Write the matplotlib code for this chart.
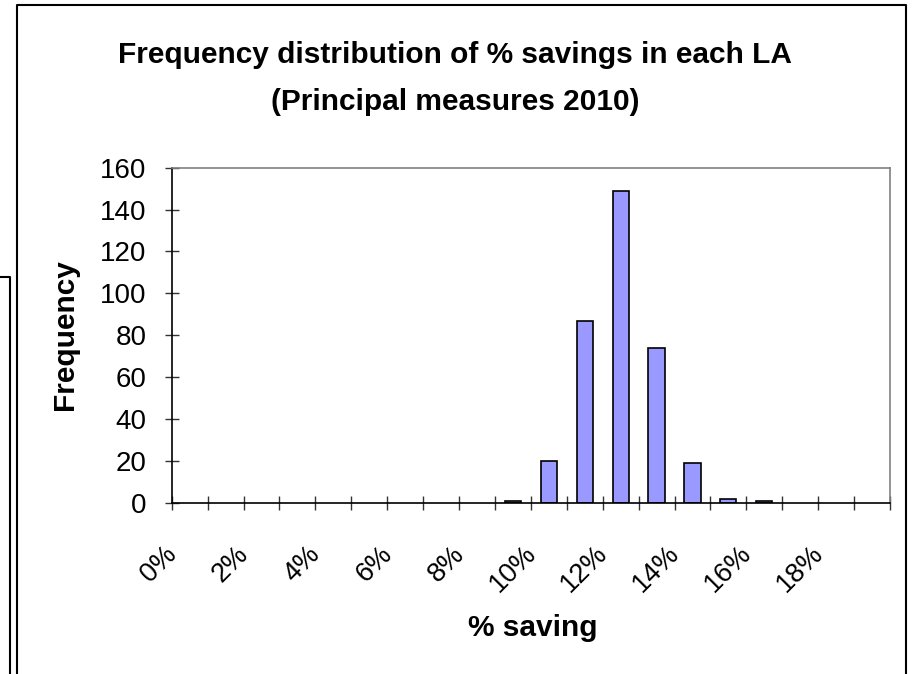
import matplotlib
matplotlib.use('Agg')
import matplotlib.pyplot as plt
import matplotlib.transforms as mtransforms
from matplotlib.lines import Line2D

plt.rcParams['font.family'] = ['Liberation Sans', 'DejaVu Sans']

# % saving bins (one per percentage point) and number of LAs in each
bins = ['%d%%' % i for i in range(20)]
counts = [0, 0, 0, 0, 0, 0, 0, 0, 0, 1, 20, 87, 149, 74, 19, 2, 1, 0, 0, 0]
yticks = [0, 20, 40, 60, 80, 100, 120, 140, 160]

W, H = 913, 674
fig = plt.figure(figsize=(W / 100, H / 100), dpi=100)

# axes placed in pixel terms to match the reference
left, right, top, bottom = 171.7, 890, 167.7, 502.7
ax = fig.add_axes([left / W, 1 - bottom / H, (right - left) / W, (bottom - top) / H])

x = list(range(len(bins)))
bars = ax.bar(x, counts, width=0.45, color='#9999FF', edgecolor='black', linewidth=1.2)
for b, c in zip(bars, counts):
    if c == 0:
        b.set_visible(False)

ax.set_xlim(-0.5, len(bins) - 0.5)
ax.set_ylim(0, 160)
ax.set_yticks(yticks)
ax.set_yticklabels([str(v) for v in yticks], fontsize=20)

# tick marks at bin boundaries, labels on every other bin
ax.set_xticks([i - 0.5 for i in range(len(bins) + 1)])
ax.set_xticklabels([])
ax.tick_params(axis='both', direction='inout', length=10, width=1, color='#333333')
ax.tick_params(axis='y', pad=13)

off = mtransforms.offset_copy(ax.get_xaxis_transform(), fig=fig, x=-12, y=-34, units='points')
for i, lab in enumerate(bins):
    if i % 2 == 0:
        ax.text(i, 0, lab, transform=off, rotation=45, rotation_mode='anchor',
                ha='right', va='center', fontsize=19.5)

for s in ['left', 'bottom']:
    ax.spines[s].set_color('black')
    ax.spines[s].set_linewidth(1.2)
for s in ['top', 'right']:
    ax.spines[s].set_color('#808080')
    ax.spines[s].set_linewidth(1.2)

fig.text(455 / W, 1 - 55 / H, 'Frequency distribution of % savings in each LA',
         ha='center', va='center', fontsize=21.5, fontweight='bold')
fig.text(455 / W, 1 - 102 / H, '(Principal measures 2010)',
         ha='center', va='center', fontsize=21.5, fontweight='bold')
fig.text(65 / W, 1 - 335 / H, 'Frequency', rotation=90, ha='center', va='center',
         fontsize=21.5, fontweight='bold')
fig.text(533 / W, 1 - 628 / H, '% saving', ha='center', va='center',
         fontsize=21.5, fontweight='bold')

# chart frame and the edge of a neighbouring chart on the left
def px_line(xs, ys, lw=1.5):
    fig.add_artist(Line2D([v / W for v in xs], [1 - v / H for v in ys],
                          color='black', linewidth=lw, transform=fig.transFigure))

px_line([17, 17, 906, 906], [H + 2, 5, 5, H + 2])
px_line([0, 10, 10], [277, 277, H + 2])

fig.savefig('out.png', dpi=100)
